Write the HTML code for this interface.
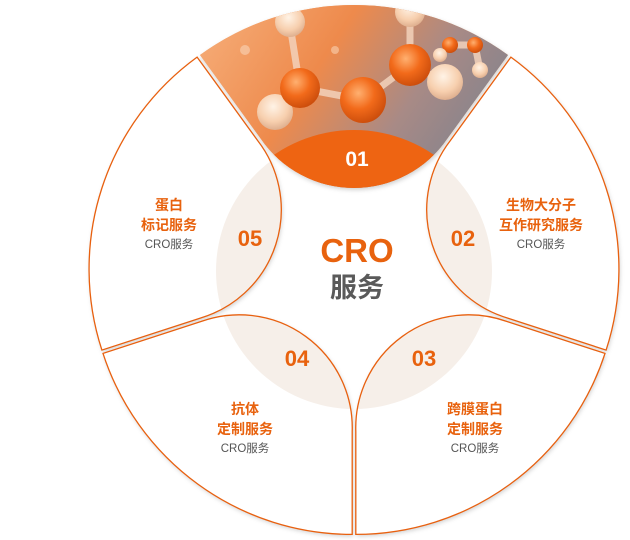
<!DOCTYPE html>
<html><head><meta charset="utf-8"><style>
html,body{margin:0;padding:0;background:#fff;}
svg{display:block;}
text{font-family:"Liberation Sans","Noto Sans CJK SC",sans-serif;}
</style></head><body>
<svg width="630" height="540" viewBox="0 0 630 540" xmlns="http://www.w3.org/2000/svg">
<defs>
 <filter id="sh" x="-10%" y="-10%" width="120%" height="120%">
  <feDropShadow dx="1" dy="2" stdDeviation="2" flood-color="#000" flood-opacity="0.18"/>
 </filter>
 <path id="p03" transform="translate(1.8,2.4)" d="M603.2,351 A262,262 0 0 1 354,532 L354,429 A113,113 0 0 1 505.2,319.1 Z"/>
 <path id="p04" transform="translate(-1.8,2.4)" d="M354,532 A262,262 0 0 1 104.8,351 L202.8,319.1 A113,113 0 0 1 354,429 Z"/>
 <path id="p05" transform="translate(-2.9,-0.9)" d="M104.8,351 A262,262 0 0 1 200,58 L260.5,141.4 A113,113 0 0 1 202.8,319.1 Z"/>
 <path id="p01" transform="translate(0,-3)" d="M200,58 A262,262 0 0 1 508,58 L447.5,141.4 A113,113 0 0 1 260.5,141.4 Z"/>
 <path id="p02" transform="translate(2.9,-0.9)" d="M508,58 A262,262 0 0 1 603.2,351 L505.2,319.1 A113,113 0 0 1 447.5,141.4 Z"/>
 <clipPath id="c01"><use href="#p01"/></clipPath>
 <clipPath id="c02"><use href="#p02"/></clipPath>
 <clipPath id="c03"><use href="#p03"/></clipPath>
 <clipPath id="c04"><use href="#p04"/></clipPath>
 <clipPath id="c05"><use href="#p05"/></clipPath>
 <linearGradient id="bg" x1="0" y1="0" x2="1" y2="0.4">
  <stop offset="0" stop-color="#f7b380"/>
  <stop offset="0.45" stop-color="#ee8a4c"/>
  <stop offset="0.75" stop-color="#a88a86"/>
  <stop offset="1" stop-color="#85838c"/>
 </linearGradient>
 <radialGradient id="ob" cx="0.4" cy="0.35" r="0.7">
  <stop offset="0" stop-color="#ffb070"/><stop offset="0.5" stop-color="#f26a1a"/><stop offset="1" stop-color="#c84a0a"/>
 </radialGradient>
 <radialGradient id="pb" cx="0.45" cy="0.35" r="0.7">
  <stop offset="0" stop-color="#fff3e6"/><stop offset="0.6" stop-color="#f7cfae"/><stop offset="1" stop-color="#d9a888"/>
 </radialGradient>
</defs>

<g filter="url(#sh)">
 <use href="#p02" fill="#fff"/>
 <use href="#p03" fill="#fff"/>
 <use href="#p04" fill="#fff"/>
 <use href="#p05" fill="#fff"/>
 <use href="#p01" fill="#f09a5c"/>
</g>

<g fill="#f6efe9">
 <circle cx="354" cy="271" r="138" clip-path="url(#c02)"/>
 <circle cx="354" cy="271" r="138" clip-path="url(#c03)"/>
 <circle cx="354" cy="271" r="138" clip-path="url(#c04)"/>
 <circle cx="354" cy="271" r="138" clip-path="url(#c05)"/>
</g>

<g clip-path="url(#c01)">
 <rect x="190" y="0" width="330" height="200" fill="url(#bg)"/>
 <g stroke="#f3d2bb" stroke-width="7" opacity="0.85">
  <line x1="300" y1="88" x2="363" y2="100"/><line x1="363" y1="100" x2="410" y2="65"/>
  <line x1="300" y1="88" x2="275" y2="112"/><line x1="300" y1="88" x2="290" y2="25"/>
  <line x1="410" y1="65" x2="410" y2="15"/><line x1="410" y1="65" x2="445" y2="82"/>
  <line x1="450" y1="45" x2="475" y2="45"/><line x1="475" y1="45" x2="480" y2="70"/>
 </g>
 <circle cx="290" cy="22" r="15" fill="url(#pb)"/>
 <circle cx="410" cy="12" r="15" fill="url(#pb)"/>
 <circle cx="275" cy="112" r="18" fill="url(#pb)"/>
 <circle cx="445" cy="82" r="18" fill="url(#pb)"/>
 <circle cx="300" cy="88" r="20" fill="url(#ob)"/>
 <circle cx="363" cy="100" r="23" fill="url(#ob)"/>
 <circle cx="410" cy="65" r="21" fill="url(#ob)"/>
 <circle cx="450" cy="45" r="8" fill="url(#ob)"/>
 <circle cx="475" cy="45" r="8" fill="url(#ob)"/>
 <circle cx="480" cy="70" r="8" fill="url(#pb)"/>
 <circle cx="440" cy="55" r="7" fill="url(#pb)"/>
 <circle cx="245" cy="50" r="5" fill="#f6c6a2" opacity="0.8"/>
 <circle cx="335" cy="50" r="4" fill="#f6c6a2" opacity="0.7"/>
 <circle cx="354" cy="271" r="141" fill="#ee6412"/>
</g>

<g fill="none" stroke="#e8600f" stroke-width="1.3">
 <use href="#p02"/><use href="#p03"/><use href="#p04"/><use href="#p05"/>
</g>

<g font-size="22" font-weight="bold" fill="#e8620e" text-anchor="middle">
 <text x="357" y="166" fill="#fff" font-size="21">01</text>
 <text x="250" y="246">05</text>
 <text x="463" y="246">02</text>
 <text x="297" y="366">04</text>
 <text x="424" y="366">03</text>
</g>
<text x="357" y="262" text-anchor="middle" font-size="33" font-weight="bold" fill="#e8620e">CRO</text>
<text x="357" y="297" text-anchor="middle" font-size="27" font-weight="bold" fill="#5a5a5a">服务</text>

<g text-anchor="middle">
 <g font-size="14" font-weight="bold" fill="#e8620e">
  <text x="169" y="210">蛋白</text><text x="169" y="230">标记服务</text>
  <text x="541" y="210">生物大分子</text><text x="541" y="230">互作研究服务</text>
  <text x="245" y="414">抗体</text><text x="245" y="434">定制服务</text>
  <text x="475" y="414">跨膜蛋白</text><text x="475" y="434">定制服务</text>
 </g>
 <g font-size="11.5" fill="#555">
  <text x="169" y="248">CRO服务</text>
  <text x="541" y="248">CRO服务</text>
  <text x="245" y="452">CRO服务</text>
  <text x="475" y="452">CRO服务</text>
 </g>
</g>
</svg>
</body></html>
